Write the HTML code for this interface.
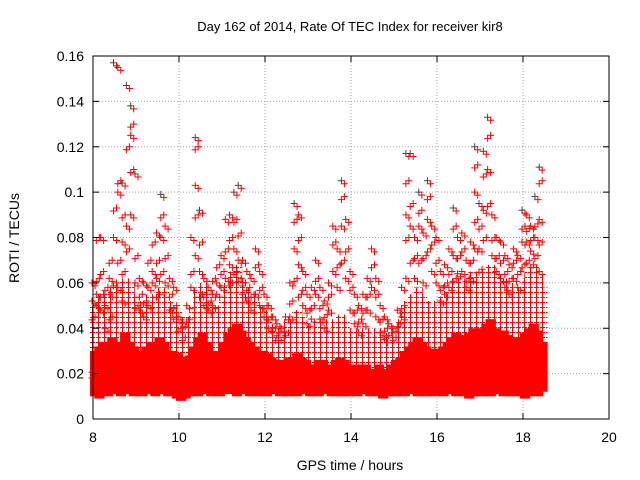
<!DOCTYPE html>
<html><head><meta charset="utf-8"><style>
body{margin:0;background:#fff}
svg{display:block;font-family:"Liberation Sans",sans-serif}
</style></head><body>
<svg id="chart" width="640" height="480" viewBox="0 0 640 480" xmlns="http://www.w3.org/2000/svg">
<defs>
<pattern id="crossTex" width="6" height="5" patternUnits="userSpaceOnUse">
<path d="M0,2.5h5M2.5,0v5" stroke="#ff0000" stroke-width="1"/>
</pattern>
</defs>
<rect width="640" height="480" fill="#fff"/>
<text x="350" y="31" font-size="13" text-anchor="middle">Day 162 of 2014, Rate Of TEC Index for receiver kir8</text>
<text x="350" y="470" font-size="14" text-anchor="middle">GPS time / hours</text>
<text transform="translate(19,238) rotate(-90)" font-size="14" text-anchor="middle">ROTI / TECUs</text>
<g id="grid"></g><g id="marks"></g><g id="axes"></g>
</svg>
<script>
const xTicks=[8,10,12,14,16,18,20];
const yTicks=[0,0.02,0.04,0.06,0.08,0.1,0.12,0.14,0.16];
const yTickLabels=["0","0.02","0.04","0.06","0.08","0.1","0.12","0.14","0.16"];
const binStart=8.0, binStep=0.1;
const bandLo=[10,9,11,10,12,11,10,11,12,10, 11,10,12,11,10,12,11,10,11,9, 8,9,10,11,10,12,11,10,11,10, 11,12,11,10,12,11,10,11,10,11, 10,11,12,10,11,10,11,10,12,11, 10,11,10,12,11,10,11,10,11,10, 11,10,12,11,10,11,10,9,10,11, 10,11,10,12,11,10,11,10,11,10, 11,10,12,11,10,11,10,9,10,11, 10,11,10,12,11,10,11,10,11,10, 9,10,11,10,12];
const bandHi=[30,32,34,31,36,34,32,38,34,32, 30,30,32,34,32,36,34,30,30,29, 27,26,28,32,36,38,34,30,30,29, 34,38,40,42,39,36,34,32,30,30, 29,27,26,24,26,27,26,29,27,26, 24,24,26,26,24,24,26,27,26,24, 24,22,24,24,22,22,24,22,22,24, 26,27,30,32,34,36,34,32,31,30, 31,32,34,36,38,37,36,38,40,39, 40,42,44,40,38,39,37,36,34,36, 38,40,42,39,34];
const midHi=[50,55,55,52,58,60,58,62,60,55, 52,50,52,55,55,58,58,52,50,48, 45,42,45,50,58,60,55,50,50,50, 55,60,65,68,62,58,55,52,50,48, 46,42,40,38,40,44,42,48,45,42, 40,40,44,44,40,40,44,46,44,40, 40,38,40,40,38,38,40,38,36,38, 40,44,48,52,55,58,55,52,50,50, 52,54,56,58,62,60,58,62,65,62, 65,66,68,64,62,62,60,58,56,58, 62,65,68,64,58];
const pts=[[52,45,60,22,18],[55,80,50,62],[80,65,48,55],[50,58,40],[62,70,55,45],[157,93,80,60],[155,105,100,70,58],[104,90,78,65,52],[147,120,85,75],[138,130,125,110,90],
[108,72,60,50],[62,55,48],[60,52,45],[58,70,50],[65,78,60],[82,70,62,55],[99,90,80,65],[85,72,60],[62,55,48],[58,50,44],
[45,40],[42,36],[50,44],[80,65,58],[124,120,103,90,72],[92,78,65,55],[62,55,50],[58,52,48],[55,62,50],[60,68,55],
[72,65,58],[88,75,62],[90,80,68,60],[100,88,75,65],[103,82,70,62],[70,60,55],[65,58,52],[62,55,48],[75,68,55],[65,58,50],
[55,50,45],[50,45,40],[45,40,36],[42,38],[40,36],[45,38],[60,52,45],[95,88,75,62],[90,80,68,55],[65,58,50],
[55,48,42],[58,50,44],[70,62,55],[58,50,44],[52,46,40],[60,55,48],[85,78,65],[75,68,58],[105,98,85,70],[88,75,62],
[65,58,48],[55,48,42],[50,44,38],[55,48,42],[62,55,48],[75,68,58],[62,55,45],[50,44,38],[45,40,35],[42,38],
[40,36],[48,42],[58,50,45],[117,105,90,80,62],[117,95,85,70],[80,72,62],[100,92,85,70],[82,72,60],[105,98,88,75],[85,78,65],
[80,70,60],[65,58,52],[68,60,55],[75,65,58],[93,85,72,62],[80,72,64],[82,75,65],[70,62,58],[78,70,62],[120,112,100,88,75],
[95,85,75,66],[118,108,92,80],[133,125,110,95],[90,80,72],[80,72,65],[78,70,62],[72,65,58],[68,62,55],[75,70,62],[72,65,58],
[92,85,78,68],[90,84,78,70],[85,80,74,68],[98,86,80,72],[111,105,88,78,65]];
const NS="http://www.w3.org/2000/svg";
const X0=93,X1=609,Y0=419,Y1=56;
const xs=t=>X0+(t-8)/(20-8)*(X1-X0);
const ys=v=>Y0-v/0.16*(Y0-Y1);
function mk(tag,at,parent){const e=document.createElementNS(NS,tag);for(const k in at)e.setAttribute(k,at[k]);parent.appendChild(e);return e;}
const grid=document.getElementById('grid'),marks=document.getElementById('marks'),axes=document.getElementById('axes');
xTicks.forEach((t,i)=>{
 if(i>0&&i<xTicks.length-1){const g=mk('line',{x1:xs(t),x2:xs(t),y1:Y1,y2:Y0,stroke:'#a0a0a0','stroke-dasharray':'1,2'},grid);
 
 }
 mk('line',{x1:xs(t),x2:xs(t),y1:Y0,y2:Y0-6,stroke:'#000'},axes);
 mk('line',{x1:xs(t),x2:xs(t),y1:Y1,y2:Y1+6,stroke:'#000'},axes);
 const l=mk('text',{x:xs(t),y:Y0+23,'font-size':14,'text-anchor':'middle'},axes);l.textContent=t;
 
 
});
yTicks.forEach((v,i)=>{
 if(i>0&&i<yTicks.length-1){const g=mk('line',{x1:X0,x2:X1,y1:ys(v),y2:ys(v),stroke:'#a0a0a0','stroke-dasharray':'1,2'},grid);
 
 }
 mk('line',{x1:X0,x2:X0+6,y1:ys(v),y2:ys(v),stroke:'#000'},axes);
 mk('line',{x1:X1,x2:X1-6,y1:ys(v),y2:ys(v),stroke:'#000'},axes);
 const l=mk('text',{x:X0-9,y:ys(v)+5,'font-size':14,'text-anchor':'end'},axes);l.textContent=yTickLabels[i];
 
 
});
const fr=mk('rect',{x:X0,y:Y1,width:X1-X0,height:Y0-Y1,fill:'none',stroke:'#000'},axes);


bandLo.forEach((lo,i)=>{
 const t=binStart+i*binStep;
 const w=xs(t+binStep)-xs(t)+6;
 const m=mk('rect',{x:xs(t)-3,y:ys(midHi[i]/1000),width:w,height:ys(bandHi[i]/1000)-ys(midHi[i]/1000),fill:'url(#crossTex)'},marks);
 
 
 const r=mk('rect',{x:xs(t)-3,y:ys(bandHi[i]/1000),width:w,height:ys(lo/1000)-ys(bandHi[i]/1000),fill:'#ff0000'},marks);
 
 
});
function plus(x,y,c){const p=mk('path',{d:`M${x-3.5},${y}h7M${x},${y-3.5}v7`,stroke:c,'stroke-width':1,fill:'none'},marks);return p;}
pts.forEach((arr,i)=>{
 const t=binStart+i*binStep;
 arr.forEach((v,j)=>{
  const p=plus(xs(t)+(j%2?2:-1),ys(v/1000),j===0&&v>90?'#444':'#ff0000');
  
  
  const p2=plus(xs(t)+(j%2?-1:2),ys(v/1000)+3,'#ff0000');
  
  
 });
});
</script>
</body></html>
